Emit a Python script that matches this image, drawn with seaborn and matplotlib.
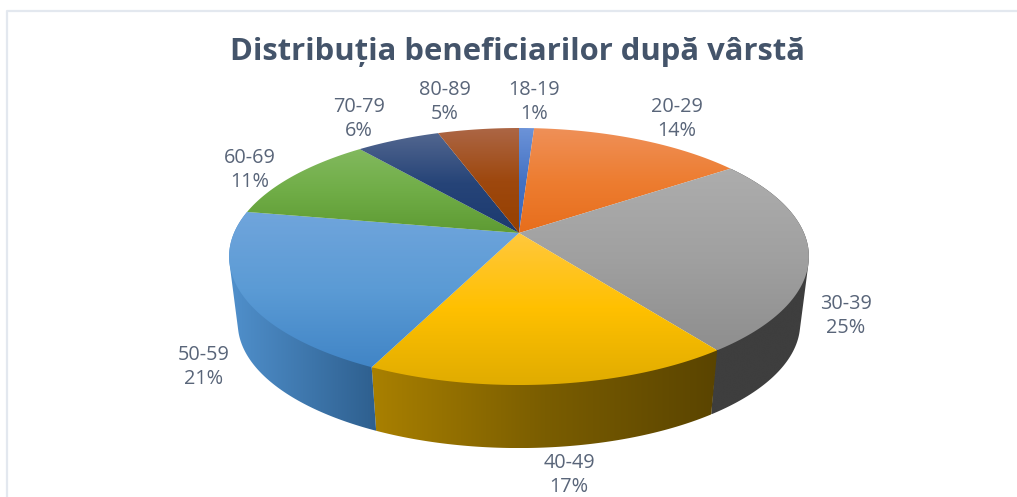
import numpy as np
import seaborn as sns
import matplotlib.pyplot as plt
from matplotlib.patches import Polygon

# Data
categories = ['18-19', '20-29', '30-39', '40-49', '50-59', '60-69', '70-79', '80-89']
# the labels are rounded, the wedges show a bit more precision
shares = [1.0, 14.3, 24.6, 17.2, 20.7, 11.2, 5.6, 5.4]
title = 'Distribuția beneficiarilor după vârstă'

# top face gradients, upper edge to lower edge
top_colors = [
    ['#6C93D8', '#4472C4', '#3A68BC'],
    ['#EF9058', '#ED7D31', '#E76E1C'],
    ['#ADADAD', '#A0A0A0', '#8E8E8E'],
    ['#FFC83E', '#FFC000', '#E0AC00'],
    ['#70A5DC', '#5B9BD5', '#4185C6'],
    ['#82B95E', '#70AD47', '#5E9B33'],
    ['#52668F', '#264478', '#1C3A70'],
    ['#AC6645', '#9E480E', '#964000'],
]
# side wall gradients, left to right
wall_colors = {
    2: ['#3E3E3E', '#3E3E3E'],
    3: ['#A98000', '#7A5D00', '#5A4400'],
    4: ['#5090CC', '#3F78AE', '#2E5F8E'],
}
label_pos = [(534, 102), (677, 119), (846, 316), (569, 475),
             (204, 367), (250, 170), (359, 119), (445, 102)]

sns.set_style('white')
plt.rcParams['font.family'] = ['Open Sans', 'DejaVu Sans']

fig = plt.figure(figsize=(10.17, 4.97), dpi=100)
ax = fig.add_axes([0, 0, 1, 1])

# perspective of the pie disc, in pixels of the picture
cx, cy = 519, 233
rx, ry, persp = 285, 124.2, 0.183
base_scale, base_drop = 0.97, 67.6


def top_point(angle):
    u, v = np.sin(angle), np.cos(angle)
    s = 1 / (1 + persp * v)
    return cx + rx * u * s, cy - ry * v * s


def base_point(angle):
    x, y = top_point(angle)
    return cx + base_scale * (x - cx), cy + base_drop + base_scale * (y - cy)


def convex_hull(points):
    # monotone chain, keeps the wall outline tangent to both discs
    pts = sorted(map(tuple, points))
    def half(seq):
        out = []
        for p in seq:
            while len(out) > 1 and ((out[-1][0] - out[-2][0]) * (p[1] - out[-2][1])
                                    - (out[-1][1] - out[-2][1]) * (p[0] - out[-2][0])) <= 0:
                out.pop()
            out.append(p)
        return out[:-1]
    return np.array(half(pts) + half(pts[::-1]))


def gradient_fill(points, colors, vertical=True):
    poly = Polygon(points, closed=True, facecolor='none', edgecolor='none')
    ax.add_patch(poly)
    cmap = sns.blend_palette(colors, as_cmap=True)
    ramp = np.linspace(0, 1, 256)
    ramp = ramp.reshape(-1, 1) if vertical else ramp.reshape(1, -1)
    xs, ys = points[:, 0], points[:, 1]
    im = ax.imshow(ramp, cmap=cmap, aspect='auto', interpolation='bilinear',
                   extent=(xs.min(), xs.max(), ys.max(), ys.min()))
    im.set_clip_path(poly)


edges = np.cumsum([0] + shares) / sum(shares) * 2 * np.pi

# walls first, the top face covers whatever sticks out behind it
for i, colors in wall_colors.items():
    arc = np.linspace(edges[i], edges[i + 1], 120)
    upper = [top_point(a) for a in arc]
    lower = [base_point(a) for a in arc]
    gradient_fill(convex_hull(upper + lower), colors, vertical=False)

for i, colors in enumerate(top_colors):
    arc = np.linspace(edges[i], edges[i + 1], 120)
    pts = np.array([(cx, cy)] + [top_point(a) for a in arc])
    gradient_fill(pts, colors)

# frame of the original chart
ax.plot([6.5, 6.5, 1017], [497, 11, 11], color='#E3E8EF', lw=1.6)

ax.text(518, 52, title, ha='center', va='center', fontsize=22.3,
        fontweight='bold', color='#44546A')

for cat, val, (x, y) in zip(categories, shares, label_pos):
    ax.text(x, y, f'{cat}\n{val:.0f}%', ha='center', va='center', fontsize=14.3,
            color='#596579', linespacing=1.24)

ax.set_xlim(0, 1017)
ax.set_ylim(497, 0)
ax.axis('off')

plt.savefig('out.png', dpi=100)
